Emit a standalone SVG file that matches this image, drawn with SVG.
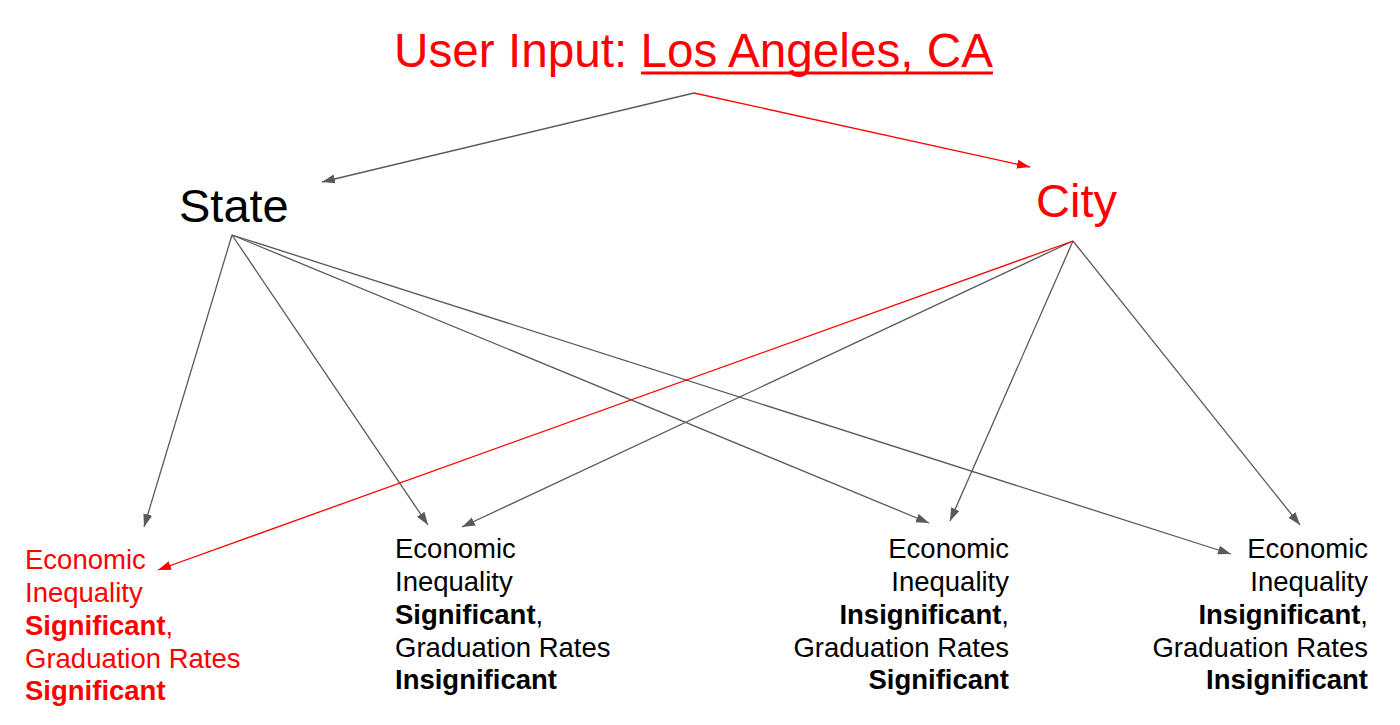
<svg xmlns="http://www.w3.org/2000/svg" width="1400" height="725" viewBox="0 0 1400 725">
<defs>
<marker id="ag" markerUnits="userSpaceOnUse" markerWidth="14" markerHeight="10" refX="13" refY="5" orient="auto"><path d="M0,0.5 L13,5 L0,9.5 z" fill="#595959"/></marker>
<marker id="ar" markerUnits="userSpaceOnUse" markerWidth="14" markerHeight="10" refX="13" refY="5" orient="auto"><path d="M0,0.5 L13,5 L0,9.5 z" fill="#ff0000"/></marker>
<style>
text{font-family:"Liberation Sans",Arial,sans-serif}
.g{stroke:#595959;stroke-width:1.3;fill:none}
.r{stroke:#ff0000;stroke-width:1.3;fill:none}
.big{font-size:47px}
.sm{font-size:27.5px}
.red{fill:#ff0000}
.blk{fill:#000}
.b{font-weight:bold}
</style>
</defs>
<rect width="1400" height="725" fill="#fff"/>
<g id="connectors">
<line class="g" x1="694" y1="93" x2="322" y2="182" marker-end="url(#ag)"/>
<line class="r" x1="694" y1="93" x2="1030" y2="167" marker-end="url(#ar)"/>
<line class="g" x1="232" y1="235" x2="144" y2="527" marker-end="url(#ag)"/>
<line class="g" x1="232" y1="235" x2="428" y2="525" marker-end="url(#ag)"/>
<line class="g" x1="232" y1="235" x2="929" y2="523" marker-end="url(#ag)"/>
<line class="g" x1="232" y1="235" x2="1231" y2="554" marker-end="url(#ag)"/>
<line class="g" x1="1073" y1="241" x2="462" y2="527" marker-end="url(#ag)"/>
<line class="g" x1="1073" y1="241" x2="950" y2="521" marker-end="url(#ag)"/>
<line class="g" x1="1073" y1="241" x2="1300" y2="525" marker-end="url(#ag)"/>
<line class="r" x1="1073" y1="241" x2="158" y2="570" marker-end="url(#ar)"/>
</g>
<g id="input">
<text x="394" y="67" font-size="47.7" class="red">User Input: Los Angeles, CA</text>
<rect x="641" y="71.5" width="352" height="3" fill="#ff0000"/>
</g>
<g id="state">
<text x="179" y="222" class="big blk">State</text>
</g>
<g id="city">
<text x="1036" y="217" class="big red">City</text>
</g>
<g id="result1" class="sm red">
<text x="25" y="569">Economic</text>
<text x="25" y="602">Inequality</text>
<text x="25" y="635"><tspan class="b">Significant</tspan>,</text>
<text x="25" y="668">Graduation Rates</text>
<text x="25" y="700" class="b">Significant</text>
</g>
<g id="result2" class="sm blk">
<text x="395" y="558">Economic</text>
<text x="395" y="591">Inequality</text>
<text x="395" y="624"><tspan class="b">Significant</tspan>,</text>
<text x="395" y="657">Graduation Rates</text>
<text x="395" y="689" class="b">Insignificant</text>
</g>
<g id="result3" class="sm blk" text-anchor="end">
<text x="1009" y="558">Economic</text>
<text x="1009" y="591">Inequality</text>
<text x="1009" y="624"><tspan class="b">Insignificant</tspan>,</text>
<text x="1009" y="657">Graduation Rates</text>
<text x="1009" y="689" class="b">Significant</text>
</g>
<g id="result4" class="sm blk" text-anchor="end">
<text x="1368" y="558">Economic</text>
<text x="1368" y="591">Inequality</text>
<text x="1368" y="624"><tspan class="b">Insignificant</tspan>,</text>
<text x="1368" y="657">Graduation Rates</text>
<text x="1368" y="689" class="b">Insignificant</text>
</g>
</svg>
